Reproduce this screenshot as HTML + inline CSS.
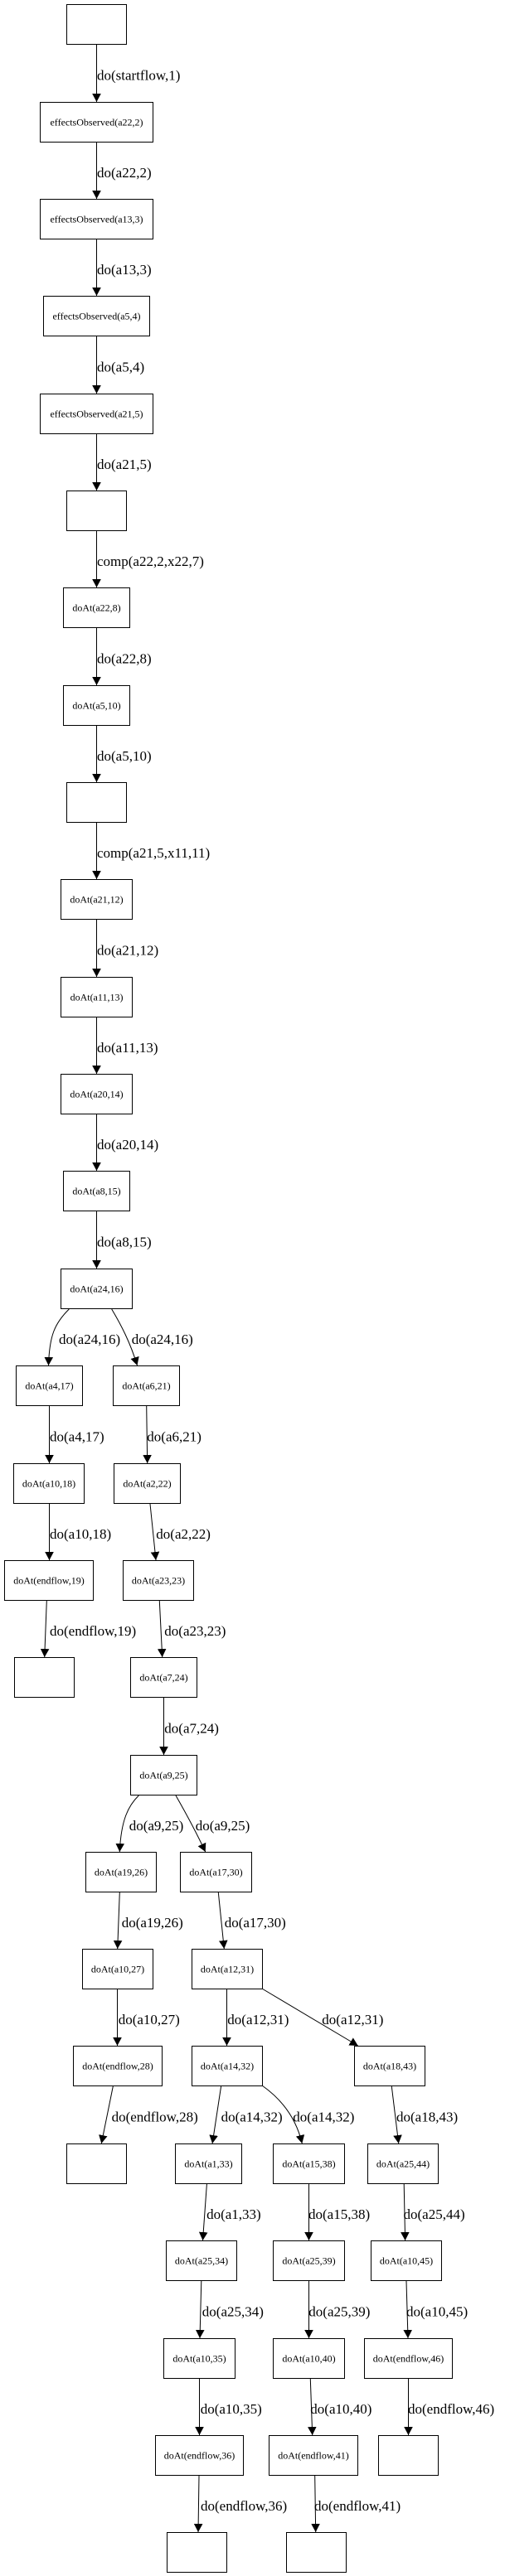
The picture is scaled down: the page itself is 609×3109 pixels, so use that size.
<!DOCTYPE html>
<html><head><meta charset="utf-8"><style>
html,body{margin:0;padding:0;background:#fff;}
svg{display:block;}
.n{fill:#fff;stroke:#000;stroke-width:1;}
.t{font-family:"Liberation Serif",serif;font-size:12px;text-anchor:middle;fill:#000;}
.l{font-family:"Liberation Serif",serif;font-size:17px;fill:#000;}
.e{fill:none;stroke:#000;stroke-width:1;marker-end:url(#a);}
</style></head><body>
<svg width="609" height="3109" viewBox="0 0 609 3109" xmlns="http://www.w3.org/2000/svg">
<defs><marker id="a" viewBox="0 0 10 10.6" refX="10" refY="5.3" markerWidth="10" markerHeight="10.6" markerUnits="userSpaceOnUse" orient="auto"><path d="M0,0 L10,5.3 L0,10.6 z" fill="#000"/></marker></defs>
<rect width="609" height="3109" fill="#fff"/>
<!-- nodes -->
<rect class="n" x="80.5" y="5.5" width="72" height="48"/>
<rect class="n" x="48.5" y="123.5" width="136" height="48"/><text class="t" x="116.5" y="151.5">effectsObserved(a22,2)</text>
<rect class="n" x="48.5" y="240.5" width="136" height="48"/><text class="t" x="116.5" y="268.5">effectsObserved(a13,3)</text>
<rect class="n" x="52.5" y="357.5" width="128" height="48"/><text class="t" x="116.5" y="385.5">effectsObserved(a5,4)</text>
<rect class="n" x="48.5" y="475.5" width="136" height="48"/><text class="t" x="116.5" y="503.5">effectsObserved(a21,5)</text>
<rect class="n" x="80.5" y="592.5" width="72" height="48"/>
<rect class="n" x="76.5" y="709.5" width="80" height="48"/><text class="t" x="116.5" y="737.5">doAt(a22,8)</text>
<rect class="n" x="76.5" y="827.5" width="80" height="48"/><text class="t" x="116.5" y="855.5">doAt(a5,10)</text>
<rect class="n" x="80.5" y="944.5" width="72" height="48"/>
<rect class="n" x="73.5" y="1061.5" width="86" height="48"/><text class="t" x="116.5" y="1089.5">doAt(a21,12)</text>
<rect class="n" x="73.5" y="1179.5" width="86" height="48"/><text class="t" x="116.5" y="1207.5">doAt(a11,13)</text>
<rect class="n" x="73.5" y="1296.5" width="86" height="48"/><text class="t" x="116.5" y="1324.5">doAt(a20,14)</text>
<rect class="n" x="76.5" y="1413.5" width="80" height="48"/><text class="t" x="116.5" y="1441.5">doAt(a8,15)</text>
<rect class="n" x="73.5" y="1531.5" width="86" height="48"/><text class="t" x="116.5" y="1559.5">doAt(a24,16)</text>
<rect class="n" x="19.5" y="1648.5" width="80" height="48"/><text class="t" x="59.5" y="1676.5">doAt(a4,17)</text>
<rect class="n" x="136.5" y="1648.5" width="80" height="48"/><text class="t" x="176.5" y="1676.5">doAt(a6,21)</text>
<rect class="n" x="16.5" y="1766.5" width="85" height="48"/><text class="t" x="59" y="1794.5">doAt(a10,18)</text>
<rect class="n" x="137.5" y="1766.5" width="80" height="48"/><text class="t" x="177.5" y="1794.5">doAt(a2,22)</text>
<rect class="n" x="5.5" y="1883.5" width="107" height="48"/><text class="t" x="59" y="1911.5">doAt(endflow,19)</text>
<rect class="n" x="148.5" y="1883.5" width="85" height="48"/><text class="t" x="191" y="1911.5">doAt(a23,23)</text>
<rect class="n" x="17.5" y="2000.5" width="72" height="48"/>
<rect class="n" x="157.5" y="2000.5" width="80" height="48"/><text class="t" x="197.5" y="2028.5">doAt(a7,24)</text>
<rect class="n" x="157.5" y="2118.5" width="80" height="48"/><text class="t" x="197.5" y="2146.5">doAt(a9,25)</text>
<rect class="n" x="103.5" y="2235.5" width="85" height="48"/><text class="t" x="146" y="2263.5">doAt(a19,26)</text>
<rect class="n" x="217.5" y="2235.5" width="86" height="48"/><text class="t" x="260.5" y="2263.5">doAt(a17,30)</text>
<rect class="n" x="99.5" y="2352.5" width="85" height="48"/><text class="t" x="142" y="2380.5">doAt(a10,27)</text>
<rect class="n" x="231.5" y="2352.5" width="85" height="48"/><text class="t" x="274" y="2380.5">doAt(a12,31)</text>
<rect class="n" x="88.5" y="2469.5" width="107" height="48"/><text class="t" x="142" y="2497.5">doAt(endflow,28)</text>
<rect class="n" x="231.5" y="2469.5" width="85" height="48"/><text class="t" x="274" y="2497.5">doAt(a14,32)</text>
<rect class="n" x="427.5" y="2469.5" width="85" height="48"/><text class="t" x="470" y="2497.5">doAt(a18,43)</text>
<rect class="n" x="80.5" y="2587.5" width="72" height="48"/>
<rect class="n" x="211.5" y="2587.5" width="80" height="48"/><text class="t" x="251.5" y="2615.5">doAt(a1,33)</text>
<rect class="n" x="329.5" y="2587.5" width="86" height="48"/><text class="t" x="372.5" y="2615.5">doAt(a15,38)</text>
<rect class="n" x="443.5" y="2587.5" width="85" height="48"/><text class="t" x="486" y="2615.5">doAt(a25,44)</text>
<rect class="n" x="200.5" y="2704.5" width="85" height="48"/><text class="t" x="243" y="2732.5">doAt(a25,34)</text>
<rect class="n" x="329.5" y="2704.5" width="86" height="48"/><text class="t" x="372.5" y="2732.5">doAt(a25,39)</text>
<rect class="n" x="447.5" y="2704.5" width="85" height="48"/><text class="t" x="490" y="2732.5">doAt(a10,45)</text>
<rect class="n" x="197.5" y="2822.5" width="86" height="48"/><text class="t" x="240.5" y="2850.5">doAt(a10,35)</text>
<rect class="n" x="329.5" y="2822.5" width="86" height="48"/><text class="t" x="372.5" y="2850.5">doAt(a10,40)</text>
<rect class="n" x="439.5" y="2822.5" width="106" height="48"/><text class="t" x="492.5" y="2850.5">doAt(endflow,46)</text>
<rect class="n" x="187.5" y="2939.5" width="106" height="48"/><text class="t" x="240.5" y="2967.5">doAt(endflow,36)</text>
<rect class="n" x="324.5" y="2939.5" width="107" height="48"/><text class="t" x="378" y="2967.5">doAt(endflow,41)</text>
<rect class="n" x="456.5" y="2939.5" width="72" height="48"/>
<rect class="n" x="201.5" y="3056.5" width="72" height="48"/>
<rect class="n" x="345.5" y="3056.5" width="72" height="48"/>
<!-- edges -->
<path class="e" d="M116.5,54 V123"/>
<path class="e" d="M116.5,172 V240"/>
<path class="e" d="M116.5,289 V357"/>
<path class="e" d="M116.5,406 V475"/>
<path class="e" d="M116.5,524 V592"/>
<path class="e" d="M116.5,641 V709"/>
<path class="e" d="M116.5,758 V827"/>
<path class="e" d="M116.5,876 V944"/>
<path class="e" d="M116.5,993 V1061"/>
<path class="e" d="M116.5,1110 V1179"/>
<path class="e" d="M116.5,1228 V1296"/>
<path class="e" d="M116.5,1345 V1413"/>
<path class="e" d="M116.5,1462 V1531"/>
<path class="e" d="M83.3,1580 C66,1597 59.5,1612 58.5,1648"/>
<path class="e" d="M134.7,1580 C146,1599 157,1620 165.5,1648"/>
<path class="e" d="M59.5,1697 V1766"/>
<path class="e" d="M176.7,1697 L177.7,1766"/>
<path class="e" d="M59.5,1815 V1883"/>
<path class="e" d="M181,1815 L188,1883"/>
<path class="e" d="M56.3,1932 L53.7,2000"/>
<path class="e" d="M192.3,1932 L195.7,2000"/>
<path class="e" d="M197.5,2049 V2118"/>
<path class="e" d="M167.3,2167 C155,2179 146,2196 144.3,2235"/>
<path class="e" d="M212,2167 C224,2188 236,2210 247.7,2235"/>
<path class="e" d="M144.3,2284 L141.7,2352"/>
<path class="e" d="M263.3,2284 L270.3,2352"/>
<path class="e" d="M141.5,2401 V2469"/>
<path class="e" d="M273.5,2401 V2469"/>
<path class="e" d="M316.7,2400.5 L431.7,2469"/>
<path class="e" d="M136.3,2518 L122.3,2587"/>
<path class="e" d="M266.6,2518 L256.1,2587"/>
<path class="e" d="M316.7,2517.5 C340,2534 357,2556 364.3,2587"/>
<path class="e" d="M472.3,2518 L480.7,2587"/>
<path class="e" d="M249.4,2636 L244.5,2704"/>
<path class="e" d="M372.5,2636 V2704"/>
<path class="e" d="M487.2,2636 L488.6,2704"/>
<path class="e" d="M242.8,2753 L241,2822"/>
<path class="e" d="M372.5,2753 V2822"/>
<path class="e" d="M490,2753 L492,2822"/>
<path class="e" d="M240.5,2871 V2939"/>
<path class="e" d="M374.3,2871 L376.7,2939"/>
<path class="e" d="M492.5,2871 V2939"/>
<path class="e" d="M240,2988 L239,3056"/>
<path class="e" d="M379.7,2988 L380.7,3056"/>
<!-- edge labels -->
<text class="l" x="117" y="96.5">do(startflow,1)</text>
<text class="l" x="117" y="214">do(a22,2)</text>
<text class="l" x="117" y="331">do(a13,3)</text>
<text class="l" x="117" y="448.5">do(a5,4)</text>
<text class="l" x="117" y="566">do(a21,5)</text>
<text class="l" x="117" y="683">comp(a22,2,x22,7)</text>
<text class="l" x="117" y="800.5">do(a22,8)</text>
<text class="l" x="117" y="918">do(a5,10)</text>
<text class="l" x="117" y="1035">comp(a21,5,x11,11)</text>
<text class="l" x="117" y="1152.5">do(a21,12)</text>
<text class="l" x="117" y="1270">do(a11,13)</text>
<text class="l" x="117" y="1387">do(a20,14)</text>
<text class="l" x="117" y="1504.5">do(a8,15)</text>
<text class="l" x="71" y="1622">do(a24,16)</text>
<text class="l" x="158.7" y="1622">do(a24,16)</text>
<text class="l" x="60" y="1739.5">do(a4,17)</text>
<text class="l" x="177.3" y="1739.5">do(a6,21)</text>
<text class="l" x="60" y="1857">do(a10,18)</text>
<text class="l" x="188.3" y="1857">do(a2,22)</text>
<text class="l" x="60" y="1974">do(endflow,19)</text>
<text class="l" x="198.3" y="1974">do(a23,23)</text>
<text class="l" x="198.3" y="2091.5">do(a7,24)</text>
<text class="l" x="155.7" y="2209">do(a9,25)</text>
<text class="l" x="235.7" y="2209">do(a9,25)</text>
<text class="l" x="146.7" y="2326">do(a19,26)</text>
<text class="l" x="270.7" y="2326">do(a17,30)</text>
<text class="l" x="142.7" y="2443">do(a10,27)</text>
<text class="l" x="274.3" y="2443">do(a12,31)</text>
<text class="l" x="388.3" y="2443">do(a12,31)</text>
<text class="l" x="134.6" y="2560.5">do(endflow,28)</text>
<text class="l" x="266.6" y="2560.5">do(a14,32)</text>
<text class="l" x="353.3" y="2560.5">do(a14,32)</text>
<text class="l" x="478" y="2560.5">do(a18,43)</text>
<text class="l" x="249.1" y="2678">do(a1,33)</text>
<text class="l" x="372" y="2678">do(a15,38)</text>
<text class="l" x="486.5" y="2678">do(a25,44)</text>
<text class="l" x="243.8" y="2795.5">do(a25,34)</text>
<text class="l" x="372.3" y="2795.5">do(a25,39)</text>
<text class="l" x="490" y="2795.5">do(a10,45)</text>
<text class="l" x="241.7" y="2913">do(a10,35)</text>
<text class="l" x="374.3" y="2913">do(a10,40)</text>
<text class="l" x="492" y="2913">do(endflow,46)</text>
<text class="l" x="242" y="3030">do(endflow,36)</text>
<text class="l" x="379" y="3030">do(endflow,41)</text>
</svg>
</body></html>
